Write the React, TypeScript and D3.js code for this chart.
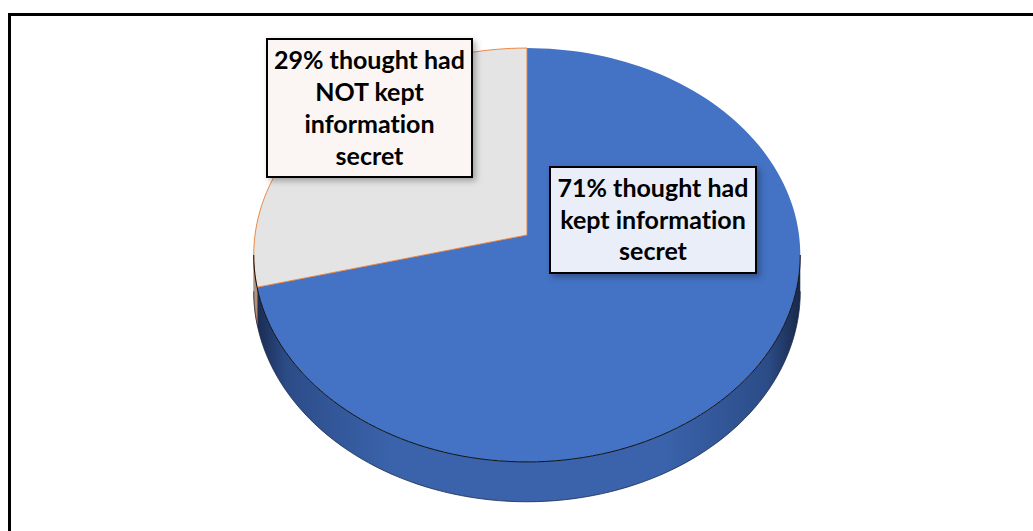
import React from "react";
import * as d3 from "d3";

const categories = ["Had NOT kept information secret", "Had kept information secret"];
const values = [29, 71];
const labelLines = [
  ["29% thought had", "NOT kept", "information", "secret"],
  ["71% thought had", "kept information", "secret"],
];
const sliceColors = ["#E4E4E4", "#4472C4"];
const labelFills = ["#FBF6F3", "#E9EEF8"];

const W = 1033;
const H = 531;

// perspective pie geometry
const CX = 527;
const CY = 235;
const A = 272;
const B = 205;
const K = 0.0966;
const DEPTH = 36;

function proj(a: number, depth = 0): [number, number] {
  const X = Math.sin(a);
  const Z = -Math.cos(a);
  const w = 1 - K * Z;
  return [CX + (A * X) / w, CY + (B * Z + depth) / w];
}

function arcPts(a0: number, a1: number, depth = 0, n = 200) {
  const pts: [number, number][] = [];
  const steps = Math.max(2, Math.ceil((Math.abs(a1 - a0) / (2 * Math.PI)) * n));
  for (let i = 0; i <= steps; i++) pts.push(proj(a0 + ((a1 - a0) * i) / steps, depth));
  return pts;
}

const line = d3.line<[number, number]>();

export default function App() {
  // data order: blue (71) clockwise from top, then grey (29)
  const order = [1, 0];
  const pie = d3
    .pie<number>()
    .sort(null)
    .value((i) => values[i])
    .startAngle(0)
    .endAngle(2 * Math.PI);
  const arcs = pie(order);

  const silL = 2 * Math.PI - Math.acos(-K);
  const silR = Math.acos(-K);

  const leftX = proj(silL)[0];
  const rightX = proj(silR)[0];

  const sides: { d: string; idx: number }[] = [];
  arcs.forEach((ar) => {
    const s = Math.max(ar.startAngle, silR);
    const e = Math.min(ar.endAngle, silL);
    if (e > s) {
      const top = arcPts(s, e, 0);
      const bot = arcPts(e, s, DEPTH);
      sides.push({ d: line([...top, ...bot])! + "Z", idx: ar.data });
    }
  });

  const tops = arcs.map((ar) => {
    const pts = [[CX, CY] as [number, number], ...arcPts(ar.startAngle, ar.endAngle, 0)];
    return { d: line(pts)! + "Z", idx: ar.data };
  });

  const frontRim = line(arcPts(silR, silL, 0))!;
  const bottomRim = line(arcPts(silR, silL, DEPTH))!;

  const boxes = [
    { x: 267, y: 39, w: 205, h: 138, lh: 32, first: 69 },
    { x: 550, y: 167, w: 206, h: 106, lh: 31.5, first: 197 },
  ];

  return (
    <svg
      width={W}
      height={H}
      style={{ position: "absolute", left: 0, top: 0, display: "block" }}
    >
      <defs>
        <linearGradient id="sideBlue" gradientUnits="userSpaceOnUse" x1={leftX} x2={rightX} y1={0} y2={0}>
          <stop offset="0" stopColor="#18284a" />
          <stop offset="0.06" stopColor="#2c4c88" />
          <stop offset="0.25" stopColor="#3a63ab" />
          <stop offset="0.75" stopColor="#3a63ab" />
          <stop offset="0.94" stopColor="#2c4c88" />
          <stop offset="1" stopColor="#18284a" />
        </linearGradient>
        <filter id="shadow" x="-10%" y="-10%" width="130%" height="130%">
          <feDropShadow dx="3" dy="3" stdDeviation="3" floodColor="#000" floodOpacity="0.3" />
        </filter>
      </defs>
      <rect x={9.5} y={14.5} width={1040} height={530} fill="#fff" stroke="#000" strokeWidth={3} />

      {sides.map((s, i) => (
        <path
          key={"s" + i}
          d={s.d}
          fill={s.idx === 1 ? "url(#sideBlue)" : "#9a9a9a"}
          stroke={s.idx === 1 ? "none" : "#ED7D31"}
          strokeWidth={0.75}
        />
      ))}
      <path d={bottomRim} fill="none" stroke="#1a2a48" strokeWidth={0.8} />

      {tops.map((t, i) => (
        <path
          key={"t" + i}
          d={t.d}
          fill={sliceColors[t.idx]}
          stroke={t.idx === 0 ? "#ED7D31" : "none"}
          strokeWidth={0.9}
          strokeLinejoin="round"
        />
      ))}
      <path d={frontRim} fill="none" stroke="#111" strokeWidth={1} />

      {boxes.map((b, i) => (
        <g key={"b" + i}>
          <rect
            x={b.x}
            y={b.y}
            width={b.w}
            height={b.h}
            fill={labelFills[i]}
            stroke="#000"
            strokeWidth={2}
            filter="url(#shadow)"
          />
          <text
            fontFamily="Lato, 'Open Sans', sans-serif"
            fontWeight={700}
            fontSize={25}
            textAnchor="middle"
            fill="#000"
            style={{ fontVariantLigatures: "none" }}
          >
            {labelLines[i].map((l, j) => (
              <tspan key={j} x={b.x + b.w / 2} y={b.first + j * b.lh}>
                {l}
              </tspan>
            ))}
          </text>
        </g>
      ))}
      <title>{categories.join(" / ")}</title>
    </svg>
  );
}
